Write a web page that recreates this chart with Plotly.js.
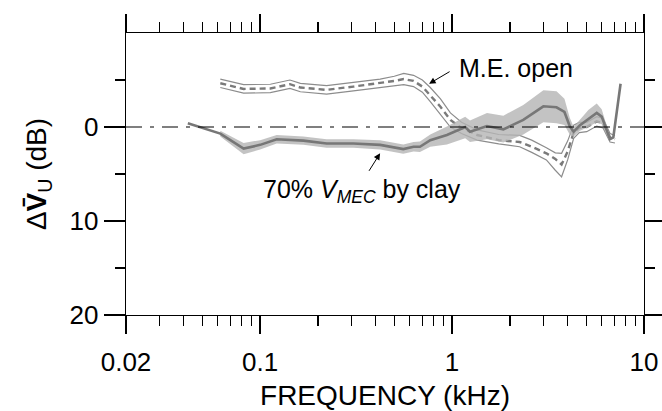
<!DOCTYPE html>
<html>
<head>
<meta charset="utf-8">
<script src="https://cdn.plot.ly/plotly-3.0.1.min.js"></script>
<style>
  html, body { margin: 0; padding: 0; background: #fff; }
  #chart { width: 662px; height: 411px; }
</style>
</head>
<body>
<div id="chart"></div>
<script>
// ---- Data (frequency in kHz, level change in dB) ----
// "M.E. open" : mean (dashed) and its two outline bounds
var me_f    = [0.062, 0.082, 0.113, 0.143, 0.162, 0.222, 0.306, 0.422, 0.50, 0.56, 0.63, 0.70, 0.77, 0.87, 0.98, 1.12, 1.35, 1.75, 2.25, 2.6, 3.1, 3.45, 3.72, 4.0, 4.3, 4.6, 5.03, 5.67, 6.12, 6.65, 7.06];
var me_mean = [-4.65, -4.05, -4.1, -4.55, -4.2, -3.95, -4.3, -4.65, -4.9, -5.1, -4.9, -4.3, -3.4, -2.15, -0.75, 0.1, 0.85, 1.4, 1.6, 2.1, 2.8, 3.4, 4.0, 2.6, 0.6, 0.1, 0.0, -0.6, -0.4, 1.1, 1.3];
var me_hi   = [-5.1, -4.5, -4.55, -5.0, -4.65, -4.4, -4.75, -5.1, -5.4, -5.7, -5.5, -5.0, -4.2, -3.0, -1.5, -0.5, 0.3, 0.8, 0.9, 1.4, 2.2, 2.75, 2.8, 1.5, -0.2, -0.5, -0.5, -1.1, -0.9, 0.7, 0.9];
var me_lo   = [-4.2, -3.6, -3.65, -4.1, -3.75, -3.5, -3.85, -4.2, -4.4, -4.5, -4.3, -3.7, -2.7, -1.3, 0.0, 0.7, 1.4, 1.8, 2.1, 2.7, 3.5, 4.6, 5.3, 3.5, 1.2, 0.6, 0.5, -0.1, 0.1, 1.6, 1.7];

// "70% V_MEC by clay" : mean line and shaded band
var clay_f    = [0.042, 0.062, 0.082, 0.10, 0.122, 0.168, 0.222, 0.306, 0.422, 0.557, 0.63, 0.68, 0.77, 0.94, 1.17, 1.24, 1.52, 1.85, 2.35, 2.99, 3.5, 3.85, 4.1, 4.3, 4.64, 5.13, 5.67, 6.02, 6.65, 6.92, 7.55];
var clay_mean = [-0.4, 0.7, 2.3, 1.9, 1.3, 1.45, 1.75, 1.75, 1.9, 2.35, 2.1, 2.1, 1.4, 0.85, 0.0, 0.5, -0.1, 0.25, -0.75, -2.2, -2.1, -1.6, -0.1, 0.5, -0.2, -0.9, -1.5, -1.1, 1.3, 1.1, -4.6];
var band_f  = [0.062, 0.082, 0.10, 0.122, 0.168, 0.222, 0.306, 0.422, 0.557, 0.63, 0.68, 0.77, 0.94, 1.17, 1.24, 1.52, 1.85, 2.35, 2.99, 3.5, 3.85, 4.1, 4.3, 4.64, 5.13, 5.67, 6.02, 6.65];
var band_hi = [0.4, 1.7, 1.4, 0.85, 1.0, 1.3, 1.3, 1.4, 1.85, 1.6, 1.55, 0.8, -0.05, -1.1, -0.7, -1.5, -1.2, -2.35, -3.9, -3.8, -3.0, -1.0, 0.0, -0.8, -1.8, -2.5, -1.9, 1.0];
var band_lo = [1.0, 2.9, 2.4, 1.75, 1.9, 2.2, 2.2, 2.4, 2.85, 2.6, 2.65, 2.1, 1.85, 1.2, 1.6, 1.3, 1.65, 0.8, -0.5, -0.4, -0.2, 0.8, 1.0, 0.4, 0.0, -0.5, -0.3, 1.6];

// Axis ticks
var x_tickvals  = [0.02, 0.1, 1, 10];
var x_ticktext  = ['0.02', '0.1', '1', '10'];
var x_minorvals = [0.03, 0.04, 0.05, 0.06, 0.07, 0.08, 0.09, 0.2, 0.3, 0.4, 0.5, 0.6, 0.7, 0.8, 0.9, 2, 3, 4, 5, 6, 7, 8, 9];
var y_tickvals  = [0, 10, 20];
var y_ticktext  = ['0', '10', '20'];
var y_minorvals = [-5, 5, 15];

var FONT = 'Liberation Sans, Arial, Helvetica, sans-serif';

var traces = [
  { x: me_f, y: me_hi, type: 'scatter', mode: 'lines', hoverinfo: 'skip',
    line: { color: '#8c8c8c', width: 1.2 } },
  { x: me_f, y: me_lo, type: 'scatter', mode: 'lines', hoverinfo: 'skip',
    line: { color: '#8c8c8c', width: 1.2 } },
  { x: me_f, y: me_mean, type: 'scatter', mode: 'lines', hoverinfo: 'skip',
    line: { color: '#7a7a7a', width: 2.4, dash: '6px,4px' } },
  { x: band_f.concat(band_f.slice().reverse()),
    y: band_hi.concat(band_lo.slice().reverse()),
    type: 'scatter', mode: 'lines', fill: 'toself', hoverinfo: 'skip',
    fillcolor: 'rgba(180,180,180,0.8)', line: { width: 0 } },
  { x: clay_f, y: clay_mean, type: 'scatter', mode: 'lines', hoverinfo: 'skip',
    line: { color: '#777777', width: 2.6 } }
];

var axisCommon = {
  showgrid: false, zeroline: false,
  showline: true, linecolor: '#000', linewidth: 1.3,
  ticks: 'outside', tickcolor: '#000', tickwidth: 1.3,
  mirror: 'allticks',
  tickfont: { family: FONT, size: 26, color: '#000' }
};

var layout = {
  width: 662, height: 411,
  margin: { l: 126, r: 18, t: 33, b: 96 },
  paper_bgcolor: '#fff', plot_bgcolor: '#fff',
  showlegend: false,
  font: { family: FONT, color: '#000' },
  xaxis: Object.assign({}, axisCommon, {
    type: 'log',
    range: [Math.log10(0.02), 1],
    tickmode: 'array', tickvals: x_tickvals, ticktext: x_ticktext,
    ticklen: 18, ticklabelstandoff: 5,
    minor: { tickmode: 'array', tickvals: x_minorvals, ticks: 'outside',
             ticklen: 10, tickcolor: '#000', tickwidth: 1.3, showgrid: false },
    title: { text: 'FREQUENCY (kHz)', font: { family: FONT, size: 28, color: '#000' }, standoff: 12 }
  }),
  yaxis: Object.assign({}, axisCommon, {
    range: [20, -10], autorange: false,
    tickmode: 'array', tickvals: y_tickvals, ticktext: y_ticktext,
    ticklen: 21,
    minor: { tickmode: 'array', tickvals: y_minorvals, ticks: 'outside',
             ticklen: 10, tickcolor: '#000', tickwidth: 1.3, showgrid: false },
    title: { text: 'Δ<b>V̄</b><sub>U</sub> (dB)', font: { family: FONT, size: 28, color: '#000' }, standoff: 14 }
  }),
  shapes: [
    { type: 'line', xref: 'paper', yref: 'y', x0: 0, x1: 1, y0: 0, y1: 0,
      line: { color: '#000', width: 1.2, dash: '16px,8px,4px,8px' } }
  ],
  annotations: [
    { x: Math.log10(0.759), y: -4.6, xref: 'x', yref: 'y', text: '',
      showarrow: true, arrowhead: 2, arrowsize: 1.3, arrowwidth: 1, arrowcolor: '#000',
      ax: 22, ay: -13 },
    { x: 0.027, y: -6.3, xref: 'x', yref: 'y', text: 'M.E. open',
      showarrow: false, xanchor: 'left', yanchor: 'middle',
      font: { family: FONT, size: 25, color: '#000' } },
    { x: -0.375, y: 2.8, xref: 'x', yref: 'y', text: '',
      showarrow: true, arrowhead: 2, arrowsize: 1.3, arrowwidth: 1, arrowcolor: '#000',
      ax: -12, ay: 19 },
    { x: -0.469, y: 6.8, xref: 'x', yref: 'y',
      text: '70% <i>V</i><sub><i>MEC</i></sub> by clay',
      showarrow: false, xanchor: 'center', yanchor: 'middle',
      font: { family: FONT, size: 25, color: '#000' } }
  ]
};

Plotly.newPlot('chart', traces, layout, { staticPlot: true, displayModeBar: false });
</script>
</body>
</html>
